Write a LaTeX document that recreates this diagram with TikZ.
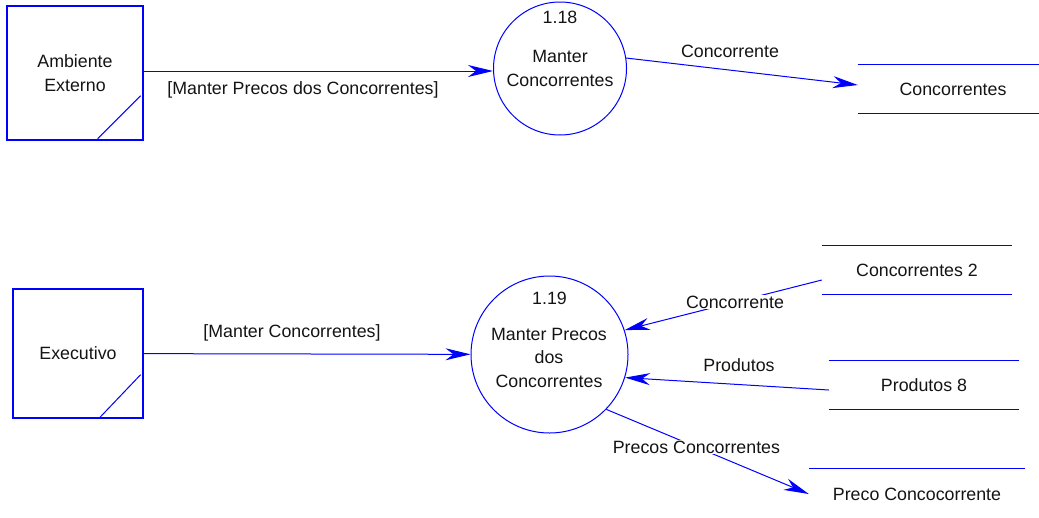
\documentclass[tikz,border=0pt]{standalone}
\usepackage{fontspec}
\setmainfont{Liberation Sans}
\usetikzlibrary{arrows.meta,calc}
\definecolor{dfdblue}{RGB}{0,0,255}
\definecolor{dfdtext}{RGB}{20,20,20}
\begin{document}
\begin{tikzpicture}[x=1pt,y=-1pt,
  every node/.style={font=\fontsize{17.8pt}{23.5pt}\selectfont, text=dfdtext, inner sep=0pt},
  entity/.style={draw=dfdblue, line width=1.3pt, align=center},
  process/.style={draw=dfdblue, circle, line width=1pt, align=center},
  store/.style={minimum width=190pt, minimum height=48pt},
  storeline/.style={draw=dfdblue, line width=1.2pt},
  flow/.style={draw=dfdblue, line width=1pt, -{Stealth[length=25pt,width=12pt,inset=8pt]}},
  lbl/.style={},
  cut/.style={fill=white, inner ysep=1pt}
]
\useasboundingbox (0,0) rectangle (1039,517);

% external entities
\node[entity, minimum width=136pt, minimum height=134pt] (amb) at (75,73) {Ambiente\\Externo};
\node[entity, minimum width=130pt, minimum height=129pt] (exe) at (78,353.5) {Executivo};
\draw[dfdblue, line width=1pt] ($(amb.south east)+(-46,-2)$) -- ($(amb.south east)+(-3,-45)$);
\draw[dfdblue, line width=1pt] ($(exe.south east)+(-44,-1)$) -- ($(exe.south east)+(-3,-44)$);

% processes
\node[process, minimum size=133pt] (p118) at (560,68.5) {Manter\\Concorrentes};
\node (n118) at ($(p118.north)+(0,16)$) {1.18};
\node[process, minimum size=157pt] (p119) at (549.5,354.5) {};
\node[align=center] (t119) at (549,357.5) {Manter Precos\\dos\\Concorrentes};
\node (n119) at ($(p119.north)+(0,23)$) {1.19};

% data stores
\node[store] (st1) at (953,89) {Concorrentes};
\node[store] (st2) at (917,270) {Concorrentes 2};
\node[store] (st3) at (924,385) {Produtos 8};
\node[store, minimum width=216pt, minimum height=50pt] (st4) at (917,494) {Preco Concocorrente};
\foreach \s in {st1,st2,st3,st4}
  \draw[storeline] (\s.north west) -- (\s.north east) (\s.south west) -- (\s.south east);

% data flows
\draw[flow] (amb.east |- 0,71) -- (p118.west |- 0,71);
\node[lbl] (l1) at (303,90) {[Manter Precos dos Concorrentes]};

\draw[flow] (p118.9) -- ($(st1.west)+(0,-4)$);
\node[lbl] (l2) at (730,51) {Concorrente};

\draw[flow] (exe) -- (p119);
\node[lbl] (l3) at (292,333) {[Manter Concorrentes]};

\draw[flow] ($(st2.west)+(0,10)$) -- (p119.18)
  node[lbl, cut, pos=0.44] (l4) {Concorrente};

\draw[flow] ($(st3.west)+(0,5)$) -- (p119.-17);
\node[lbl] (l5) at (739,365) {Produtos};

\draw[flow] (p119.-44) -- (st4.west)
  node[lbl, cut, pos=0.445] (l6) {Precos Concorrentes};
\end{tikzpicture}
\end{document}
